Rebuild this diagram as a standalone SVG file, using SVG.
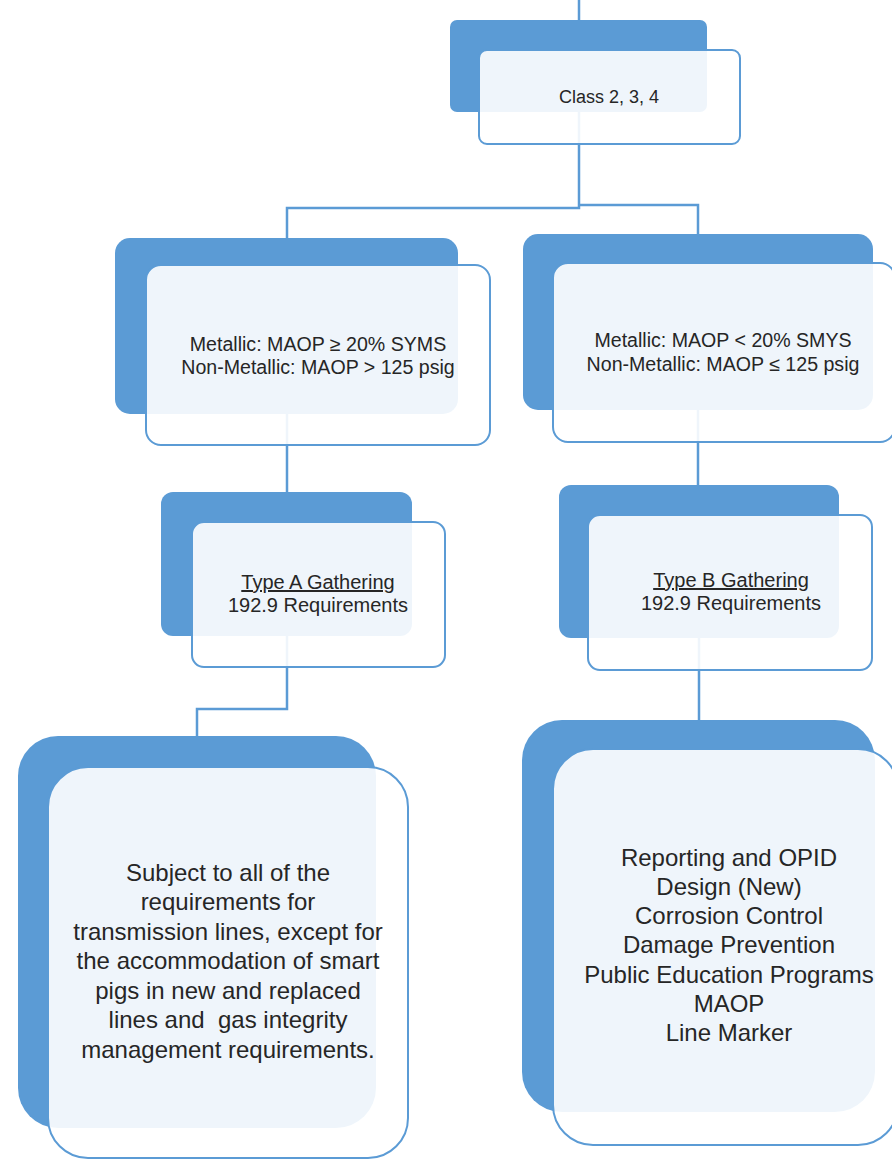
<svg xmlns="http://www.w3.org/2000/svg" width="892" height="1159" viewBox="0 0 892 1159">
<style>
.bk{fill:#5B9BD5;}
.fr{fill:#FFFFFF;fill-opacity:0.9;stroke:#5B9BD5;stroke-width:2;}
.cn{fill:none;stroke:#5B9BD5;stroke-width:2.5;}
text{font-family:"Liberation Sans",Arial,sans-serif;fill:#262626;text-anchor:middle;}
.s1{font-size:18px;}
.s2{font-size:19.6px;}
.s3{font-size:20px;}
.s4{font-size:24px;}
</style>
<rect width="892" height="1159" fill="#FFFFFF"/>
<g id="connectors">
<path class="cn" d="M579,0 V208 H287 V238"/>
<path class="cn" d="M579,205 H698 V234"/>
<path class="cn" d="M287,414 V492"/>
<path class="cn" d="M698,410 V486"/>
<path class="cn" d="M287,636 V709 H197 V737"/>
<path class="cn" d="M699,638 V720"/>
</g>
<g id="class234">
<rect class="bk" x="450" y="20" width="257" height="92" rx="7"/>
<rect class="fr" x="479" y="50" width="261" height="94" rx="8"/>
<text class="s1" x="609" y="103">Class 2, 3, 4</text>
</g>
<g id="high">
<rect class="bk" x="115" y="238" width="343" height="176" rx="15"/>
<rect class="fr" x="146" y="265" width="344" height="180" rx="15"/>
<text class="s2" x="318" y="351">Metallic: MAOP ≥ 20% SYMS</text>
<text class="s2" x="318" y="374">Non-Metallic: MAOP &gt; 125 psig</text>
</g>
<g id="low">
<rect class="bk" x="523" y="234" width="350" height="176" rx="15"/>
<rect class="fr" x="553" y="263" width="342" height="179" rx="15"/>
<text class="s2" x="723" y="347">Metallic: MAOP &lt; 20% SMYS</text>
<text class="s2" x="723" y="371">Non-Metallic: MAOP ≤ 125 psig</text>
</g>
<g id="typeA">
<rect class="bk" x="161" y="492" width="251" height="144" rx="12"/>
<rect class="fr" x="192" y="522" width="253" height="145" rx="12"/>
<text class="s3" x="318" y="589" text-decoration="underline">Type A Gathering</text>
<text class="s3" x="318" y="612">192.9 Requirements</text>
</g>
<g id="typeB">
<rect class="bk" x="559" y="485" width="280" height="153" rx="12"/>
<rect class="fr" x="588" y="515" width="284" height="155" rx="12"/>
<text class="s3" x="731" y="587" text-decoration="underline">Type B Gathering</text>
<text class="s3" x="731" y="610">192.9 Requirements</text>
</g>
<g id="typeAreq">
<rect class="bk" x="18" y="736" width="358" height="392" rx="40"/>
<rect class="fr" x="48" y="767" width="360" height="391" rx="40"/>
<text class="s4" x="228" y="881">Subject to all of the</text>
<text class="s4" x="228" y="910">requirements for</text>
<text class="s4" x="228" y="940">transmission lines, except for</text>
<text class="s4" x="228" y="969">the accommodation of smart</text>
<text class="s4" x="228" y="999">pigs in new and replaced</text>
<text class="s4" x="228" y="1028">lines and&#160; gas integrity</text>
<text class="s4" x="228" y="1058">management requirements.</text>
</g>
<g id="typeBreq">
<rect class="bk" x="522" y="720" width="353" height="392" rx="40"/>
<rect class="fr" x="553" y="749" width="345" height="396" rx="40"/>
<text class="s4" x="729" y="866">Reporting and OPID</text>
<text class="s4" x="729" y="895">Design (New)</text>
<text class="s4" x="729" y="924">Corrosion Control</text>
<text class="s4" x="729" y="953">Damage Prevention</text>
<text class="s4" x="729" y="983">Public Education Programs</text>
<text class="s4" x="729" y="1012">MAOP</text>
<text class="s4" x="729" y="1041">Line Marker</text>
</g>
</svg>
